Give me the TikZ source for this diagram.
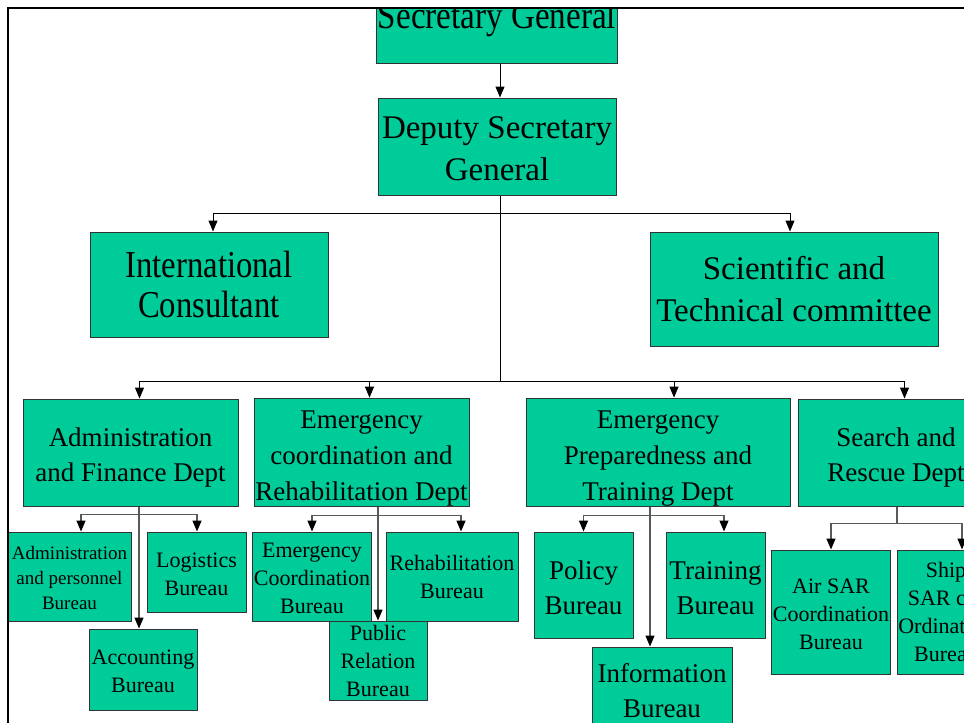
\documentclass[tikz,border=0pt]{standalone}
\usepackage{fontspec}
\setmainfont{Liberation Serif}
\newfontfamily\narrowfont[FakeStretch=0.86]{Liberation Serif}
\usetikzlibrary{arrows.meta}

\definecolor{orgfill}{RGB}{0,204,153}
% an invisible strut that makes a first line taller, pushing the text block down
\newcommand\tallline[1]{\rule{0pt}{#1}}

\begin{document}
\begin{tikzpicture}[x=1pt,y=-1pt,
  orgbox/.style={draw=black!80, line width=1pt, fill=orgfill, inner sep=1pt,
                 align=center, anchor=center},
  toptext/.style={font=\fontsize{33}{42}\selectfont},
  depttext/.style={font=\fontsize{27}{35}\selectfont},
  deptthree/.style={font=\fontsize{27}{36}\selectfont},
  bigbureau/.style={font=\fontsize{27}{35}\selectfont},
  bureautext/.style={font=\fontsize{22}{28}\selectfont},
  smallbureau/.style={font=\fontsize{19}{25}\selectfont},
  link/.style={draw=black, line width=1pt},
  arr/.style={link, -{Triangle[length=11pt,width=9pt]}},
  sublink/.style={draw=black!65, line width=1.4pt},
  subarr/.style={sublink, -{Triangle[length=11pt,width=9pt,color=black]}}
]
\useasboundingbox (0,0) rectangle (964,723);
\fill[white] (0,0) rectangle (964,723);

\begin{scope}
\clip (8,8) rectangle (964,723);

% top of the chart
\node[orgbox, minimum width=238, minimum height=88,
      font=\narrowfont\fontsize{38.5}{44}\selectfont] (sg) at (497,19) {Secretary General};
\node[orgbox, toptext, minimum width=238, minimum height=97] (dsg) at (497,146.5)
  {\tallline{26.5pt}Deputy Secretary\\General};
\node[orgbox, minimum width=238, minimum height=105,
      font=\narrowfont\fontsize{38}{40}\selectfont] (ic) at (209,284.5)
  {International\\Consultant};
\node[orgbox, toptext, minimum width=288, minimum height=114] (stc) at (794,289)
  {Scientific and\\Technical committee};

% departments
\node[orgbox, depttext, minimum width=215, minimum height=107] (adm) at (130.5,452.5)
  {\tallline{28.5pt}Administration\\and Finance Dept};
\node[orgbox, deptthree, minimum width=215, minimum height=107] (ecr) at (361.5,452.5)
  {\tallline{29pt}Emergency\\coordination and\\Rehabilitation Dept};
\node[orgbox, deptthree, minimum width=264, minimum height=107] (ept) at (658,452.5)
  {\tallline{29pt}Emergency\\Preparedness and\\Training Dept};
\node[orgbox, depttext, minimum width=196, minimum height=107] (sar) at (896,452.5)
  {\tallline{28.5pt}Search and\\Rescue Dept};

% bureaus of administration and finance
\node[orgbox, smallbureau, minimum width=123, minimum height=89] (apb) at (69.5,576.5)
  {\tallline{17pt}Administration\\and personnel\\Bureau};
\node[orgbox, bureautext, minimum width=99, minimum height=80] (log) at (196.5,572)
  {\tallline{19pt}Logistics\\Bureau};
\node[orgbox, bureautext, minimum width=108, minimum height=81] (acc) at (143,669.5)
  {\tallline{19pt}Accounting\\Bureau};

% bureaus of emergency coordination and rehabilitation
\node[orgbox, bureautext, minimum width=116, minimum height=89] (ecb) at (312,576.5)
  {\tallline{19pt}Emergency\\Coordination\\Bureau};
\node[orgbox, bureautext, minimum width=132, minimum height=89] (reb) at (452,576.5)
  {Rehabilitation\\Bureau};
\node[orgbox, bureautext, minimum width=98, minimum height=79] (prb) at (378,660.5)
  {Public\\Relation\\Bureau};

% bureaus of emergency preparedness and training
\node[orgbox, bigbureau, minimum width=99, minimum height=106] (pol) at (583.5,585)
  {\tallline{24.5pt}Policy\\Bureau};
\node[orgbox, bigbureau, minimum width=99, minimum height=106] (trn) at (715.5,585)
  {\tallline{24.5pt}Training\\Bureau};
\node[orgbox, bigbureau, minimum width=140, minimum height=88] (inf) at (662,691)
  {Information\\Bureau};

% bureaus of search and rescue
\node[orgbox, bureautext, minimum width=116, minimum height=124] (air) at (831,612)
  {\tallline{19pt}Air SAR\\Coordination\\Bureau};
\node[orgbox, bureautext, minimum width=98, minimum height=124] (ship) at (946,612)
  {Ship\\SAR co-\\Ordination\\Bureau};

% connectors between the upper levels
\draw[arr] ([xshift=3pt]sg.south) -- ([xshift=3pt]dsg.north);
\path ([xshift=3pt]dsg.south) ++(0,18) coordinate (j1);
\draw[link] ([xshift=3pt]dsg.south) -- ++(0,186) coordinate (j2);
\draw[arr] (j1) -| ([xshift=4pt]ic.north);
\draw[arr] (j1) -| ([xshift=-4pt]stc.north);
\draw[arr] (j2) -| ([xshift=9pt]adm.north);
\draw[arr] (j2) -| ([xshift=8pt]ecr.north);
\draw[arr] (j2) -| ([xshift=16pt]ept.north);
\draw[arr] (j2) -| ([xshift=8.5pt]sar.north);

% connectors from departments to bureaus
\path ([xshift=8.5pt]adm.south) ++(0,8) coordinate (ja);
\draw[subarr] ([xshift=8.5pt]adm.south) -- ([xshift=-4pt]acc.north);
\draw[subarr] (ja) -| ([xshift=11.5pt]apb.north);
\draw[subarr] (ja) -| ([xshift=0.5pt]log.north);

\path ([xshift=16.5pt]ecr.south) ++(0,8) coordinate (je);
\draw[subarr] ([xshift=16.5pt]ecr.south) -- (prb.north);
\draw[subarr] (je) -| (ecb.north);
\draw[subarr] (je) -| ([xshift=9pt]reb.north);

\path ([xshift=-8pt]ept.south) ++(0,8) coordinate (jp);
\draw[subarr] ([xshift=-8pt]ept.south) -- ([xshift=-12pt]inf.north);
\draw[subarr] (jp) -| (pol.north);
\draw[subarr] (jp) -| ([xshift=8.5pt]trn.north);

\path ([xshift=1pt]sar.south) ++(0,17) coordinate (js);
\draw[sublink] ([xshift=1pt]sar.south) -- (js);
\draw[subarr] (js) -| (air.north);
\draw[subarr] (js) -| ([xshift=16pt]ship.north);
\end{scope}

% page frame
\draw[line width=2pt] (8,723) -- (8,8) -- (964,8);
\end{tikzpicture}
\end{document}
